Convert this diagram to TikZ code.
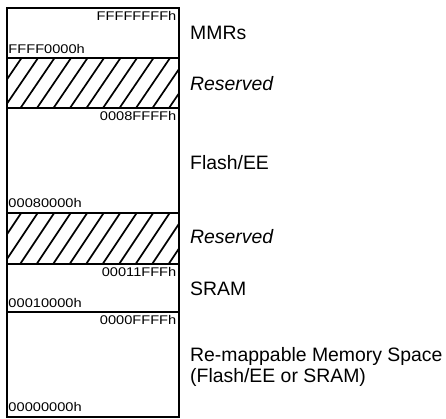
\documentclass[tikz,border=0pt]{standalone}
\usepackage{graphicx}
\usepackage{fontspec}
\setmainfont{Liberation Sans}
\begin{document}
\begin{tikzpicture}[x=1bp,y=-1bp,
  region/.style={draw, line width=2bp},
  hatchline/.style={line width=1.7bp},
  addr/.style={inner sep=0pt, font=\fontsize{12.6bp}{14bp}\selectfont},
  lbl/.style={inner sep=0pt, anchor=base west, font=\fontsize{19.4bp}{22bp}\selectfont}]
\useasboundingbox (0,0) rectangle (446,418);
% corner coordinates
\coordinate (tl) at (7,8);
\coordinate (br) at (178.5,416.5);
% hatched reserved areas
\foreach \ya/\yb in {58/108, 212.5/263.5}{
  \begin{scope}
    \clip (7,\ya) rectangle (178.5,\yb);
    \foreach \k in {-3,...,12}
      \draw[hatchline] (4+\k*16.5,\yb) -- ++(34,{-(\yb-\ya)});
  \end{scope}
}
% outline and dividers
\draw[region] (tl) rectangle (br);
\foreach \y/\n in {58/d1, 108/d2, 212.5/d3, 263.5/d4, 312/d5}{
  \coordinate (\n l) at (7,\y);
  \coordinate (\n r) at (178.5,\y);
  \draw[region] (\n l) -- (\n r);
}
% address labels
\newcommand{\addrtext}[1]{\scalebox{1.16}[1]{#1}}
\node[addr, anchor=base east] (a1) at (176.5,20.7) {\addrtext{FFFFFFFFh}};
\node[addr, anchor=base west] (a2) at (8.3,53.3) {\addrtext{FFFF0000h}};
\node[addr, anchor=base east] (a3) at (176.5,120.7) {\addrtext{0008FFFFh}};
\node[addr, anchor=base west] (a4) at (8.3,207.8) {\addrtext{00080000h}};
\node[addr, anchor=base east] (a5) at (176.5,276) {\addrtext{00011FFFh}};
\node[addr, anchor=base west] (a6) at (8.3,307) {\addrtext{00010000h}};
\node[addr, anchor=base east] (a7) at (176.5,324.7) {\addrtext{0000FFFFh}};
\node[addr, anchor=base west] (a8) at (8.3,411.8) {\addrtext{00000000h}};
% region labels
\node[lbl] (l1) at (190,39) {MMRs};
\node[lbl] (l2) at (190,90) {\itshape Reserved};
\node[lbl] (l3) at (190,169) {Flash/EE};
\node[lbl] (l4) at (190,243.5) {\itshape Reserved};
\node[lbl] (l5) at (190,295) {SRAM};
\node[lbl] (l6) at (190,361) {Re-mappable Memory Space};
\node[lbl] (l7) at (190,382) {(Flash/EE or SRAM)};
\end{tikzpicture}
\end{document}
